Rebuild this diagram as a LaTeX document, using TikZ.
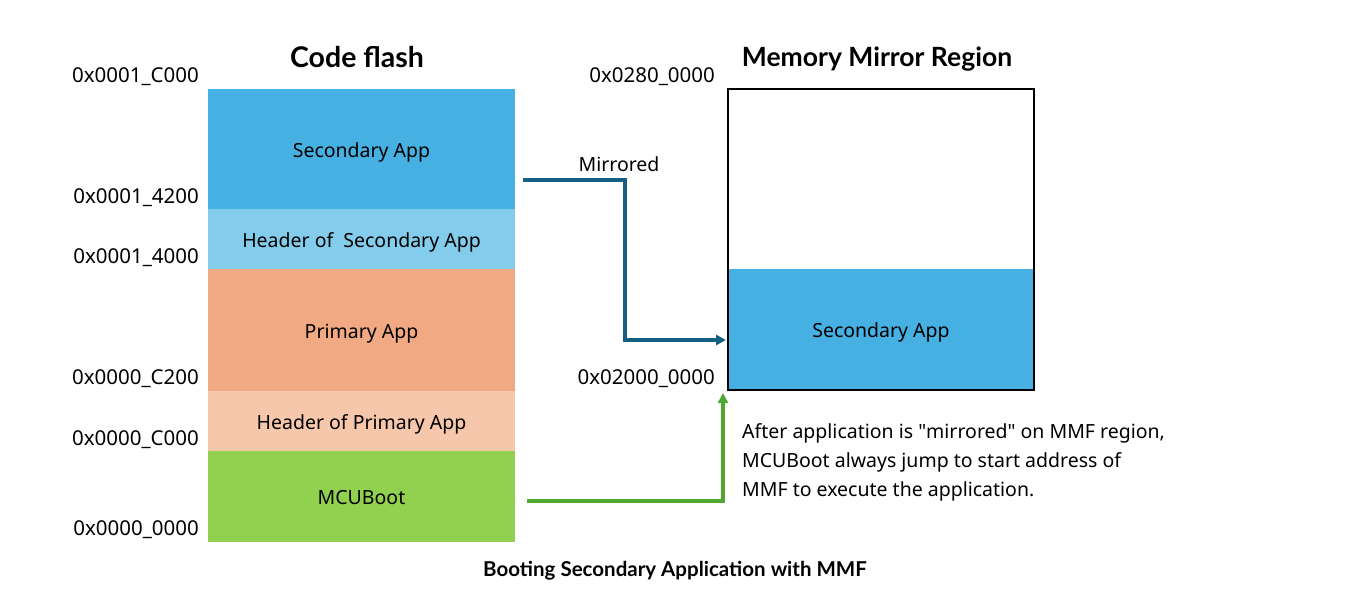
\documentclass[tikz,border=0pt]{standalone}
\usepackage{fontspec}
\setmainfont{Noto Sans}
\newfontfamily\ttlfont{Lato}
\usetikzlibrary{arrows.meta}
\definecolor{secblue}{HTML}{45B0E1}
\definecolor{hdrblue}{HTML}{83CCEB}
\definecolor{primor}{HTML}{F1A983}
\definecolor{hdror}{HTML}{F7C7AC}
\definecolor{mcugreen}{HTML}{92D050}
\definecolor{mirblue}{HTML}{156082}
\definecolor{jmpgreen}{HTML}{4EA72E}
\tikzset{
  lower/.style={text height=16pt, text depth=0pt},
  blk/.style={fill=#1, draw=none, minimum width=307pt, inner sep=0pt, lower, font=\fontsize{19.5}{23}\selectfont},
  addr/.style={anchor=east, inner sep=0pt, font=\fontsize{20.5}{24}\selectfont},
  ttl/.style={font=\ttlfont\bfseries\fontsize{27.5}{32}\selectfont, inner sep=0pt},
  txt/.style={anchor=west, inner sep=0pt, font=\fontsize{19.5}{23}\selectfont},
  arr/.style={#1, line width=3.2pt, -{Triangle[length=10pt,width=10pt]}},
}
\begin{document}
\begin{tikzpicture}[x=1pt,y=-1pt]
\useasboundingbox (0,0) rectangle (1349,589);
% code flash blocks
\node[blk=secblue, minimum height=120pt] (sec) at (361.5,149) {Secondary App};
\node[blk=hdrblue, minimum height=60pt] (hsec) at (361.5,239) {Header of \ Secondary App};
\node[blk=primor, minimum height=122pt] (pri) at (361.5,330) {Primary App};
\node[blk=hdror, minimum height=60pt] (hpri) at (361.5,421) {Header of Primary App};
\node[blk=mcugreen, minimum height=91pt] (mcu) at (361.5,496.5) {MCUBoot};
\node[ttl, font=\ttlfont\bfseries\fontsize{28.5}{32}\selectfont] (cft) at (357,57) {Code flash};
% addresses
\node[addr] (a1) at (199,77) {0x0001\_C000};
\node[addr] (a2) at (199,198) {0x0001\_4200};
\node[addr] (a3) at (199,258) {0x0001\_4000};
\node[addr] (a4) at (199,379) {0x0000\_C200};
\node[addr] (a5) at (199,440) {0x0000\_C000};
\node[addr] (a6) at (199,530) {0x0000\_0000};
% mirror region
\node[fill=secblue, minimum width=306pt, minimum height=121pt, inner sep=0pt, lower, font=\fontsize{19.5}{23}\selectfont] (msec) at (881,329.5) {Secondary App};
\node[draw=black, line width=1.5pt, minimum width=306pt, minimum height=301pt, inner sep=0pt] (mmr) at (881,239.5) {};
\node[ttl, font=\ttlfont\bfseries\fontsize{26.5}{32}\selectfont] (mmt) at (877,59) {Memory Mirror Region};
\node[addr] (b1) at (715,77) {0x0280\_0000};
\node[addr] (b2) at (715,379) {0x02000\_0000};
% arrows
\coordinate (m0) at (523,180);
\coordinate (m1) at (726,340);
\draw[arr=mirblue] (m0) -- (625,180) |- (m1);
\node[inner sep=0pt, font=\fontsize{19.5}{23}\selectfont] (mlab) at (619,164) {Mirrored};
\coordinate (g0) at (527,501);
\coordinate (g1) at (723,393);
\draw[arr=jmpgreen] (g0) -| (g1);
% annotation
\node[txt, align=left, anchor=north west, font=\fontsize{19.5}{29}\selectfont] (note) at (742,423) {After application is \textquotedbl mirrored\textquotedbl{} on MMF region,\\MCUBoot always jump to start address of\\MMF to execute the application.};
\node[inner sep=0pt, font=\ttlfont\bfseries\fontsize{20.5}{24}\selectfont] (cap) at (675,571) {Booting Secondary Application with MMF};
\end{tikzpicture}
\end{document}
